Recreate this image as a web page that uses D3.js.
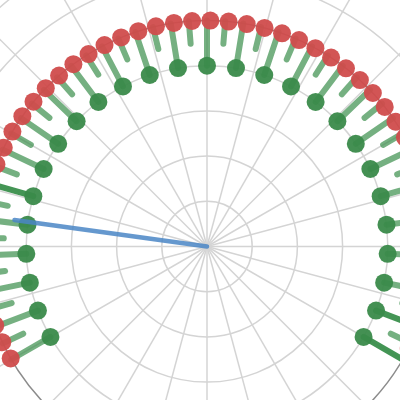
<!DOCTYPE html>
<html><head><meta charset="utf-8">
<script src="https://cdn.jsdelivr.net/npm/d3@7"></script>
<style>html,body{margin:0;padding:0;background:#fff;overflow:hidden}</style>
</head><body><svg id="c" width="400" height="400"></svg>
<script>
// ---- data ----
const ticks = [0,1,2,3,4,5,6,7,8,9,10,11,12,13,14,15,16,17,18,19,20,21,22,23,24,25,26,
  27,28,29,30,31,32,33,34,35,36,37,38,39,40,41,42,43,44,45,46,47,48,49,50,51,52];
const stemStart = [4,4.5,4,4.5,4,4.5,4,4.5,4,4.5,4,4.5,4,4.5,4,4.5,4,4.5,4,4.5,4,4.5,4,4.5,4,4.5,4,
  4.5,4,4.5,4,4.5,4,4.5,4,4.5,4,4.5,4,4.5,4,4.5,4,4.5,4,4.5,4,4.5,4,4.5,4,4.5,4];
const stemEnd = [5,5,5,5,5,5,5,5,5,5,5,5,5,5,5,5,5,5,5,5,5,5,5,5,5,5,5,
  5,5,5,5,5,5,5,5,5,5,5,5,5,5,5,5,5,5,5,5,5,5,5,5,5,5];
const majorTicks = [0,2,4,6,8,10,12,14,16,18,20,22,24,26,28,30,32,34,36,38,40,42,44,46,48,50,52];
const majorValue = [4,4,4,4,4,4,4,4,4,4,4,4,4,4,4,4,4,4,4,4,4,4,4,4,4,4,4];
const redTicks = [0,1,2,3,4,5,6,7,8,9,10,11,12,13,14,15,16,17,18,19,20,21,22,23,24,25,26,
  27,28,29,30,31,32,33,34,35,36,37,38,39,40,41,42,43,44,45,46,47,48,49,50,51];
const redValue = [5,5,5,5,5,5,5,5,5,5,5,5,5,5,5,5,5,5,5,5,5,5,5,5,5,5,5,
  5,5,5,5,5,5,5,5,5,5,5,5,5,5,5,5,5,5,5,5,5,5,5,5,5];
const emphasized = [10, 50, 52];
const needleTick = [8.2];
const needleLength = [4.3];
const gridRings = [1,2,3,4,6,7];
const outerRing = [5];
const spokeAngles = [0,15,30,45,60,75,90,105,120,135,150,165,180,195,210,225,240,255,270,285,300,315,330,345];

// ---- scales ----
const cx = 207, cy = 246.5;
const ang = d3.scaleLinear().domain([0, 52]).range([-120, 120]);
const angRed = d3.scaleLinear().domain([0, 52]).range([-119.7, 121.4]);
const rad = d3.scaleLinear().domain([0, 5]).range([0, 226]);
const toRad = d => d * Math.PI / 180;
const px = (a, r) => r * Math.sin(toRad(a));
const py = (a, r) => -r * Math.cos(toRad(a));

const svg = d3.select('#c');
const g = svg.append('g').attr('transform', `translate(${cx},${cy})`);

// grid
g.selectAll('circle.grid').data(gridRings).join('circle')
  .attr('r', d => rad(d)).attr('fill', 'none')
  .attr('stroke', '#d4d4d4').attr('stroke-width', 1.5);
g.selectAll('line.spoke').data(spokeAngles).join('line')
  .attr('x1', 0).attr('y1', 0)
  .attr('x2', d => px(d, rad(8))).attr('y2', d => py(d, rad(8)))
  .attr('stroke', '#d4d4d4').attr('stroke-width', 1.5);
g.selectAll('circle.outer').data(outerRing).join('circle')
  .attr('r', d => rad(d)).attr('fill', 'none')
  .attr('stroke', '#8c8c8c').attr('stroke-width', 1.5);

// stems
g.selectAll('line.stem').data(ticks).join('line')
  .attr('x1', i => px(ang(i), rad(stemStart[i]))).attr('y1', i => py(ang(i), rad(stemStart[i])))
  .attr('x2', i => px(ang(i), rad(stemEnd[i]))).attr('y2', i => py(ang(i), rad(stemEnd[i])))
  .attr('stroke', '#3a8f4c')
  .attr('stroke-opacity', i => emphasized.includes(i) ? 0.95 : 0.7)
  .attr('stroke-width', 6).attr('stroke-linecap', 'round');

// green dots
g.selectAll('circle.major').data(majorTicks).join('circle')
  .attr('cx', (t, j) => px(ang(t), rad(majorValue[j])))
  .attr('cy', (t, j) => py(ang(t), rad(majorValue[j])))
  .attr('r', 9).attr('fill', '#3a8a4a').attr('fill-opacity', 0.95);

// red dots
g.selectAll('circle.red').data(redTicks).join('circle')
  .attr('cx', (t, j) => px(angRed(t), rad(redValue[j])))
  .attr('cy', (t, j) => py(angRed(t), rad(redValue[j])))
  .attr('r', 9).attr('fill', '#d04c4c').attr('fill-opacity', 0.95);

// needle
g.selectAll('line.needle').data(needleTick).join('line')
  .attr('x1', 0).attr('y1', 0)
  .attr('x2', (t, j) => px(ang(t), rad(needleLength[j])))
  .attr('y2', (t, j) => py(ang(t), rad(needleLength[j])))
  .attr('stroke', '#4a86c6').attr('stroke-opacity', 0.85)
  .attr('stroke-width', 4.5).attr('stroke-linecap', 'round');
</script></body></html>
